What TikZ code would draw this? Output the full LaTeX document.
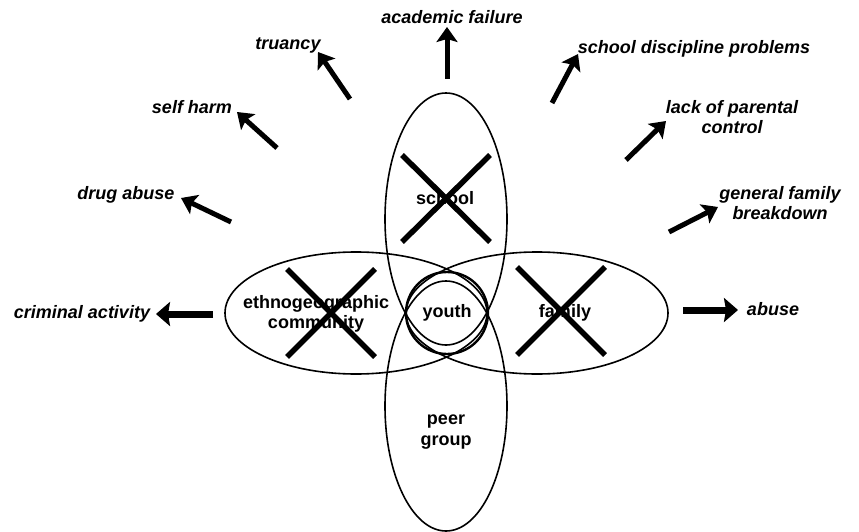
\documentclass[tikz,border=0pt]{standalone}
\usepackage{fontspec}
\setmainfont{Liberation Sans}
\usetikzlibrary{shapes.geometric,arrows.meta}
\begin{document}
\begin{tikzpicture}[x=1pt,y=-1pt,
  txt/.style={font=\fontsize{18}{20.5}\selectfont\bfseries, inner sep=0pt, align=center},
  outcome/.style={font=\fontsize{18}{20.5}\selectfont\bfseries\itshape, inner sep=0pt, align=center},
  ring/.style={draw, ellipse, line width=1.6pt, inner sep=0pt},
  cross/.style={line width=5.5pt},
  push/.style={line width=5pt, -{Stealth[length=15pt,width=21pt,inset=3pt]}},
  pushh/.style={line width=7pt, -{Stealth[length=14pt,width=24pt,inset=2pt]}}]
\useasboundingbox (0,0) rectangle (859,532);

% the five overlapping spheres
\node[ring, minimum width=122pt, minimum height=252pt] (school) at (446,219) {};
\node[ring, minimum width=122pt, minimum height=250pt] (peer) at (446,406) {};
\node[ring, minimum width=262pt, minimum height=122pt] (ethno) at (356,313) {};
\node[ring, minimum width=262pt, minimum height=122pt] (family) at (537,313) {};
\node[draw, circle, line width=2.4pt, minimum size=82pt, inner sep=0pt] (youthring) at (447,313) {};

% labels inside
\node[txt] (schooltxt) at (445,198) {school};
\node[txt] (ethnotxt) at (316,314) {ethnogeographic\\community};
\node[txt] (youthtxt) at (447,313) {youth};
\node[txt] (familytxt) at (565,313) {family};
\node[txt] (peertxt) at (446,432) {peer\\group};

% crossed-out spheres
\coordinate (sa) at (402,155); \coordinate (sb) at (490,242);
\coordinate (sc) at (490,155); \coordinate (sd) at (402,242);
\draw[cross] (sa) -- (sb); \draw[cross] (sc) -- (sd);
\coordinate (ea) at (287,269); \coordinate (eb) at (375,357);
\coordinate (ec) at (375,269); \coordinate (ed) at (287,357);
\draw[cross] (ea) -- (eb); \draw[cross] (ec) -- (ed);
\coordinate (fa) at (517,267); \coordinate (fb) at (605,355);
\coordinate (fc) at (605,267); \coordinate (fd) at (517,355);
\draw[cross] (fa) -- (fb); \draw[cross] (fc) -- (fd);

% outcomes
\node[outcome] (crim) at (82,314) {criminal activity};
\node[outcome] (drug) at (126,195) {drug abuse};
\node[outcome] (harm) at (192,107) {self harm};
\node[outcome] (truan) at (288,45) {truancy};
\node[outcome] (acad) at (452,17) {academic failure};
\node[outcome] (disc) at (694,49) {school discipline problems};
\node[outcome] (lack) at (732,117) {lack of parental\\control};
\node[outcome] (gfb) at (780,203) {general family\\breakdown};
\node[outcome] (abuse) at (773,309) {abuse};

% arrows pointing to the outcomes
\coordinate (c1s) at (213,314); \coordinate (c1t) at (156,314);
\coordinate (c2s) at (231,222); \coordinate (c2t) at (181,198);
\coordinate (c3s) at (277,148); \coordinate (c3t) at (237,112);
\coordinate (c4s) at (350,99);  \coordinate (c4t) at (318,52);
\coordinate (c5s) at (447,79);  \coordinate (c5t) at (447,27);
\coordinate (c6s) at (552,103); \coordinate (c6t) at (578,54);
\coordinate (c7s) at (626,160); \coordinate (c7t) at (666,121);
\coordinate (c8s) at (669,232); \coordinate (c8t) at (718,207);
\coordinate (c9s) at (683,310); \coordinate (c9t) at (738,310);
\draw[pushh] (c1s) -- (c1t);
\draw[push] (c2s) -- (c2t);
\draw[push] (c3s) -- (c3t);
\draw[push] (c4s) -- (c4t);
\draw[push] (c5s) -- (c5t);
\draw[push] (c6s) -- (c6t);
\draw[push] (c7s) -- (c7t);
\draw[push] (c8s) -- (c8t);
\draw[pushh] (c9s) -- (c9t);
\end{tikzpicture}
\end{document}
